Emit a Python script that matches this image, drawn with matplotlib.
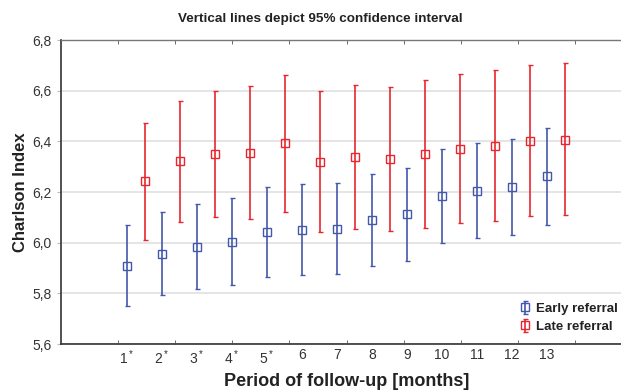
import numpy as np
import matplotlib.pyplot as plt
from matplotlib.ticker import FixedLocator, FuncFormatter

plt.rcParams['font.family'] = ['Liberation Sans', 'DejaVu Sans']

# data
months = ['1', '2', '3', '4', '5', '6', '7', '8', '9', '10', '11', '12', '13']
starred = [True, True, True, True, True, False, False, False, False, False, False, False, False]

early_mean = [5.908, 5.955, 5.984, 6.004, 6.042, 6.049, 6.055, 6.089, 6.113, 6.185, 6.205, 6.219, 6.263]
early_low = [5.750, 5.792, 5.816, 5.832, 5.864, 5.871, 5.876, 5.908, 5.928, 5.999, 6.020, 6.032, 6.071]
early_high = [6.071, 6.122, 6.154, 6.176, 6.219, 6.230, 6.237, 6.272, 6.294, 6.371, 6.395, 6.408, 6.453]

late_mean = [6.242, 6.322, 6.350, 6.355, 6.393, 6.320, 6.337, 6.329, 6.350, 6.370, 6.383, 6.400, 6.407]
late_low = [6.010, 6.083, 6.101, 6.095, 6.120, 6.041, 6.054, 6.045, 6.059, 6.076, 6.087, 6.104, 6.108]
late_high = [6.474, 6.560, 6.600, 6.620, 6.663, 6.600, 6.621, 6.616, 6.641, 6.667, 6.682, 6.700, 6.709]

blue = '#4358aa'
red = '#e8262e'

fig = plt.figure(figsize=(6.21, 3.91), dpi=100)
ax = fig.add_axes([61 / 621, 47 / 391, 571 / 621, 304 / 391])

x = np.arange(1, len(months) + 1)
em, lo, hi = np.array(early_mean), np.array(early_low), np.array(early_high)
ax.errorbar(x, em, yerr=[em - lo, hi - em], fmt='s', color=blue, mfc='none', mec=blue,
            ms=6, mew=1.0, elinewidth=1.2, capsize=1.8, capthick=1.2, label='Early referral', zorder=3)
lm, llo, lhi = np.array(late_mean), np.array(late_low), np.array(late_high)
ax.errorbar(x + 0.5, lm, yerr=[lm - llo, lhi - lm], fmt='s', color=red, mfc='none', mec=red,
            ms=6, mew=1.0, elinewidth=1.2, capsize=1.8, capthick=1.2, label='Late referral', zorder=3)

# x axis: labels under the early points, tick marks split the axis in 10 parts
xmin = 1 - 66 / 35
xmax = xmin + 571 / 35
ax.set_xlim(xmin, xmax)
ax.set_ylim(5.6, 6.8)
ax.xaxis.set_major_locator(FixedLocator(x))
labels = [r'$\mathregular{%s^*}$' % m if s else m for m, s in zip(months, starred)]
ax.set_xticklabels(labels, fontsize=10, color='#333333')
ax.xaxis.set_minor_locator(FixedLocator(np.linspace(xmin, xmax, 11)[1:-1]))
ax.tick_params(axis='x', which='major', length=0, pad=3)
ax.tick_params(axis='x', which='minor', direction='in', length=3, top=True, color='#555555')

ax.set_yticks(np.arange(5.6, 6.81, 0.2))
ax.yaxis.set_major_formatter(FuncFormatter(lambda v, p: ('%.1f' % v).replace('.', ',')))
ax.tick_params(axis='y', direction='out', length=3, labelsize=10, labelcolor='#333333', color='#bbbbbb')
ax.grid(axis='y', color='#e3e3e3', lw=1.3, zorder=0)
ax.set_axisbelow(True)

for side in ['left', 'bottom']:
    ax.spines[side].set_color('#333333')
    ax.spines[side].set_linewidth(1.2)
ax.spines['top'].set_color('#777777')
ax.spines['top'].set_linewidth(1.0)
ax.spines['right'].set_visible(False)

ax.set_xlabel('Period of follow-up [months]', fontsize=13, fontweight='bold', color='#222222', labelpad=4.5)
ax.set_ylabel('Charlson Index', fontsize=12, fontweight='bold', color='#222222', labelpad=3)
fig.text(320 / 621, 1 - 19 / 391, 'Vertical lines depict 95% confidence interval', ha='center', va='center',
         fontsize=9.7, fontweight='bold', color='#222222')

leg = ax.legend(loc='lower right', bbox_to_anchor=((612 - 61) / 571 + 0.025, 0.01), frameon=False,
                prop={'weight': 'bold', 'size': 9.5}, handlelength=1.0, handletextpad=0.4, labelspacing=0.45,
                borderaxespad=0.2)
for t in leg.get_texts():
    t.set_color('#222222')

fig.savefig('out.png', dpi=100)
